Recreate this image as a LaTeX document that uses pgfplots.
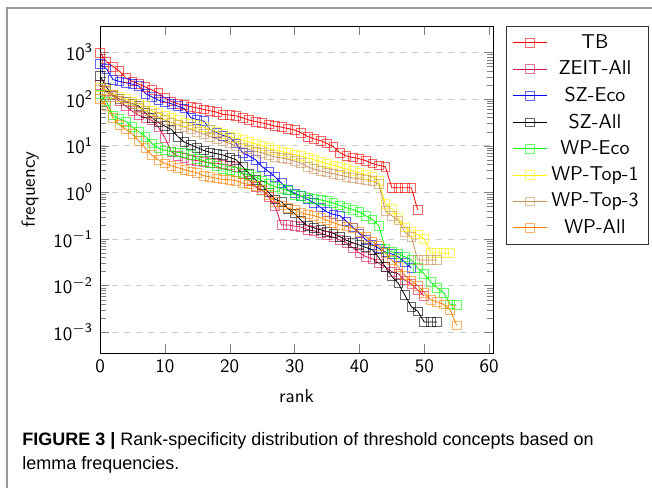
\documentclass[border=0pt]{standalone}
\usepackage{fontspec}
\usepackage{pgfplots}
\pgfplotsset{compat=1.18}
\renewcommand{\familydefault}{\sfdefault}
\newfontfamily\capfont{Liberation Sans}
\definecolor{crimson}{RGB}{215,20,85}
\definecolor{tanbrown}{RGB}{200,145,90}
\definecolor{wporange}{RGB}{255,128,0}

\begin{document}
\begin{tikzpicture}[x=1pt,y=1pt]
\path[use as bounding box] (0,0) rectangle (326,244);
\draw[gray!80, line width=0.8pt] (3.5,0) -- (3.5,240) -- (326,240);

\begin{axis}[
    at={(50pt,67.5pt)}, anchor=south west,
    scale only axis,
    width=196.5pt, height=163.5pt,
    ymode=log,
    xmin=0, xmax=60.6,
    ymin=3.6e-4, ymax=3.7e3,
    xtick={0,10,...,60},
    ytick={1e-3,1e-2,1e-1,1,10,100,1000},
    yticklabels={10\textsuperscript{$-$3},10\textsuperscript{$-$2},10\textsuperscript{$-$1},10\textsuperscript{0},10\textsuperscript{1},10\textsuperscript{2},10\textsuperscript{3}},
    /pgf/number format/assume math mode=true,
    ymajorgrids=true,
    grid style={dashed, gray!40},
    tick label style={font=\fontsize{9.5}{11}\selectfont},
    label style={font=\fontsize{9.5}{11}\selectfont},
    xlabel={rank},
    ylabel={frequency},
    xlabel style={at={(axis description cs:0.5,-0.13)}, anchor=center},
    ylabel style={at={(axis description cs:-0.178,0.5)}, anchor=center},
    every axis plot/.append style={line width=0.4pt, mark=square, mark size=2.2pt, mark options={solid, opacity=0.6}},
    legend style={at={(1.033,1)}, anchor=north west, font=\fontsize{10}{12}\selectfont, draw=black!80, row sep=0.7pt},
    legend cell align=center,
]
% TB
\addplot[red] coordinates {(0,1000)(1,631)(2,501)(3,398)(4,282)(5,240)(6,209)(7,182)(8,158)(9,135)(10,105)(11,89.1)(12,79.4)(13,74.1)(14,69.2)(15,64.6)(16,60.3)(17,56.2)(18,52.5)(19,46.8)(20,45.7)(21,43.7)(22,39.8)(23,35.5)(24,33.1)(25,30.9)(26,28.8)(27,26.3)(28,25.1)(29,23.4)(30,21.9)(31,19.1)(32,15.8)(33,14.1)(34,12.9)(35,11.2)(36,9.55)(37,7.08)(38,6.03)(39,5.62)(40,5.25)(41,4.79)(42,4.17)(43,3.80)(44,3.55)(45,1.26)(46,1.26)(47,1.26)(48,1.26)(49,0.417)};
\addlegendentry{TB}
% ZEIT-All
\addplot[crimson] coordinates {(0,200)(1,150)(2,120)(3,90)(4,70)(5,55)(6,45)(7,40)(8,35)(9,25)(10,15)(11,7.5)(12,6)(13,5.5)(14,5)(15,4.8)(16,4.5)(17,4.3)(18,4.2)(19,4)(20,3.8)(21,3.5)(22,2.5)(23,1.8)(24,1.3)(25,1.1)(26,0.8)(27,0.5)(28,0.2)(29,0.2)(30,0.19)(31,0.18)(32,0.16)(33,0.15)(34,0.135)(35,0.12)(36,0.11)(37,0.095)(38,0.083)(39,0.065)(40,0.05)(41,0.042)(42,0.038)(43,0.03)(44,0.025)(45,0.02)(46,0.018)(47,0.013)(48,0.011)(49,0.008)(50,0.006)};
\addlegendentry{ZEIT-All}
% SZ-Eco
\addplot[blue] coordinates {(0,562)(1,447)(2,263)(3,240)(4,224)(5,209)(6,191)(7,132)(8,112)(9,95.5)(10,87.1)(11,79.4)(12,70.8)(13,63.1)(14,39.8)(15,36.3)(16,33.9)(17,22.4)(18,19.1)(19,16.6)(20,15.1)(21,11.2)(22,7.08)(23,6.03)(24,5.01)(25,3.55)(26,2.82)(27,2.14)(28,1.58)(29,1.12)(30,0.955)(31,0.832)(32,0.708)(33,0.603)(34,0.479)(35,0.380)(36,0.339)(37,0.316)(38,0.240)(39,0.178)(40,0.132)(41,0.0955)(42,0.0759)(43,0.0631)(44,0.0525)(45,0.0479)(46,0.0417)(47,0.0316)(48,0.0240)};
\addlegendentry{SZ-Eco}
% SZ-All
\addplot[black] coordinates {(0,316)(1,178)(2,126)(3,100)(4,89.1)(5,79.4)(6,70.8)(7,50.1)(8,39.8)(9,31.6)(10,26.3)(11,22.4)(12,15.8)(13,12.0)(14,10.5)(15,9.12)(16,7.94)(17,7.24)(18,6.76)(19,6.31)(20,5.62)(21,5.01)(22,3.55)(23,2.51)(24,1.86)(25,1.41)(26,1.0)(27,0.708)(28,0.631)(29,0.447)(30,0.355)(31,0.251)(32,0.191)(33,0.174)(34,0.158)(35,0.145)(36,0.132)(37,0.112)(38,0.0933)(39,0.0832)(40,0.0741)(41,0.0661)(42,0.0589)(43,0.0398)(44,0.0251)(45,0.0158)(46,0.0112)(47,0.00631)(48,0.00355)(49,0.00282)(50,0.00166)(51,0.00166)(52,0.00166)};
\addlegendentry{SZ-All}
% WP-Eco
\addplot[green] coordinates {(0,126)(1,89.1)(2,44.7)(3,38.0)(4,33.1)(5,25.1)(6,20.0)(7,15.8)(8,11.2)(9,8.91)(10,7.94)(11,7.59)(12,7.24)(13,6.92)(14,6.31)(15,5.25)(16,4.79)(17,4.17)(18,3.63)(19,3.16)(20,2.95)(21,2.75)(22,2.57)(23,2.34)(24,2.14)(25,1.78)(26,1.51)(27,1.32)(28,1.20)(29,1.10)(30,0.891)(31,0.832)(32,0.776)(33,0.724)(34,0.692)(35,0.646)(36,0.589)(37,0.525)(38,0.468)(39,0.427)(40,0.380)(41,0.316)(42,0.263)(43,0.191)(44,0.0631)(45,0.0537)(46,0.0479)(47,0.0417)(48,0.0355)(49,0.0240)(50,0.0178)(51,0.0120)(52,0.00891)(53,0.00708)(54,0.00398)(55,0.00380)};
\addlegendentry{WP-Eco}
% WP-Top-1
\addplot[yellow] coordinates {(0,178)(1,158)(2,126)(3,112)(4,100)(5,89.1)(6,79.4)(7,70.8)(8,56.2)(9,50.1)(10,44.7)(11,39.8)(12,35.5)(13,31.6)(14,29.5)(15,28.2)(16,25.1)(17,22.4)(18,20.0)(19,17.8)(20,15.8)(21,14.5)(22,13.2)(23,12.0)(24,11.0)(25,10.0)(26,8.91)(27,8.13)(28,7.59)(29,6.92)(30,6.46)(31,6.03)(32,5.50)(33,5.01)(34,4.57)(35,4.17)(36,3.80)(37,3.47)(38,3.16)(39,2.88)(40,2.63)(41,2.40)(42,2.14)(43,1.78)(44,0.562)(45,0.447)(46,0.282)(47,0.178)(48,0.141)(49,0.126)(50,0.1)(51,0.05)(52,0.05)(53,0.05)(54,0.05)};
\addlegendentry{WP-Top-1}
% WP-Top-3
\addplot[tanbrown] coordinates {(0,158)(1,141)(2,112)(3,100)(4,89.1)(5,79.4)(6,66.1)(7,56.2)(8,47.9)(9,41.7)(10,35.5)(11,31.6)(12,28.2)(13,25.1)(14,22.4)(15,20.0)(16,17.8)(17,15.8)(18,14.1)(19,12.6)(20,11.2)(21,10.0)(22,8.91)(23,8.32)(24,7.59)(25,7.08)(26,6.31)(27,5.75)(28,5.50)(29,5.13)(30,4.68)(31,4.27)(32,3.55)(33,3.16)(34,2.88)(35,2.69)(36,2.51)(37,2.34)(38,2.19)(39,2.04)(40,1.95)(41,1.86)(42,1.74)(43,1.51)(44,0.398)(45,0.316)(46,0.251)(47,0.141)(48,0.112)(49,0.0355)(50,0.0355)(51,0.0355)(52,0.0355)};
\addlegendentry{WP-Top-3}
% WP-All
\addplot[wporange] coordinates {(0,100)(1,70.8)(2,39.8)(3,28.2)(4,22.4)(5,17.8)(6,12.6)(7,8.91)(8,6.31)(9,5.01)(10,4.17)(11,3.72)(12,3.39)(13,3.09)(14,2.82)(15,2.63)(16,2.29)(17,2.14)(18,2.0)(19,1.91)(20,1.86)(21,1.78)(22,1.58)(23,1.48)(24,1.38)(25,1.12)(26,0.891)(27,0.631)(28,0.525)(29,0.468)(30,0.417)(31,0.363)(32,0.339)(33,0.316)(34,0.288)(35,0.251)(36,0.224)(37,0.2)(38,0.186)(39,0.170)(40,0.141)(41,0.112)(42,0.0891)(43,0.0708)(44,0.0501)(45,0.0355)(46,0.0251)(47,0.0166)(48,0.0126)(49,0.01)(50,0.00708)(51,0.00501)(52,0.00447)(53,0.00398)(54,0.00302)(55,0.00141)};
\addlegendentry{WP-All}
\end{axis}

\node[anchor=west, inner sep=0pt] at (11,23.5) {\capfont\fontsize{9}{11}\selectfont\textbf{FIGURE 3 |} Rank-specificity distribution of threshold concepts based on};
\node[anchor=west, inner sep=0pt] at (11,11.5) {\capfont\fontsize{9}{11}\selectfont lemma frequencies.};
\end{tikzpicture}
\end{document}
